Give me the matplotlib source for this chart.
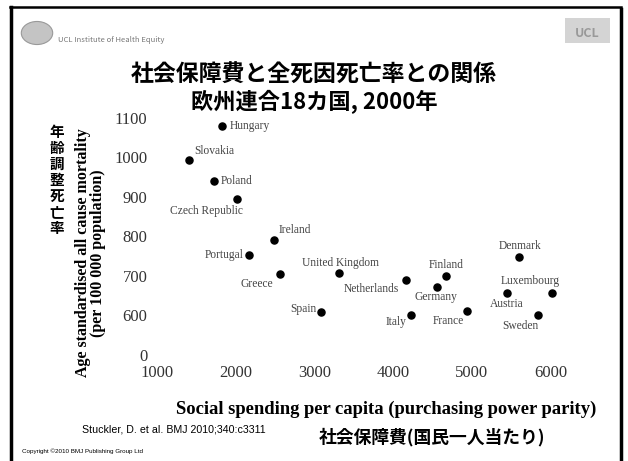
import matplotlib.pyplot as plt
from matplotlib.patches import Circle, Rectangle
from matplotlib.lines import Line2D

plt.rcParams['font.family'] = ['Noto Sans CJK JP', 'DejaVu Sans']

countries = ['Hungary', 'Slovakia', 'Poland', 'Czech Republic', 'Ireland', 'Portugal',
             'Greece', 'Spain', 'United Kingdom', 'Netherlands', 'Finland', 'Germany',
             'Italy', 'France', 'Denmark', 'Luxembourg', 'Austria', 'Sweden']
spending = [1826, 1407, 1724, 2017, 2487, 2169, 2563, 3084, 3313, 4164, 4672, 4558,
            4227, 4939, 5600, 6019, 5447, 5841]
mortality = [1080, 994, 940, 895, 791, 753, 705, 609, 708, 690, 700, 672,
             599, 611, 748, 655, 655, 601]

x_ticks = [1000, 2000, 3000, 4000, 5000, 6000]
y_ticks = [500, 600, 700, 800, 900, 1000, 1100]
y_tick_labels = ['0', '600', '700', '800', '900', '1000', '1100']

# label placement: (dx px, dy px, ha)
offsets = {
    'Hungary': (8, 0, 'left'), 'Slovakia': (25, 9, 'center'), 'Poland': (7, 0, 'left'),
    'Czech Republic': (-31, -12, 'center'), 'Ireland': (21, 10, 'center'),
    'Portugal': (-5, 0, 'right'), 'Greece': (-23, -10, 'center'), 'Spain': (-5, 3, 'right'),
    'United Kingdom': (1, 10, 'center'), 'Netherlands': (-35, -9, 'center'),
    'Finland': (0, 11, 'center'), 'Germany': (-1, -10, 'center'), 'Italy': (-5, -7, 'right'),
    'France': (-19, -10, 'center'), 'Denmark': (1, 11, 'center'),
    'Luxembourg': (-22, 12, 'center'), 'Austria': (0, -11, 'center'),
    'Sweden': (-18, -11, 'center'),
}

W, H = 628, 461
serif = ['Liberation Serif', 'DejaVu Serif']
fig = plt.figure(figsize=(W / 100, H / 100), dpi=100)
fig.patch.set_facecolor('white')

ax = fig.add_axes([157 / W, 1 - 362.4 / H, (590 - 157) / W, (362.4 - 110.1) / H])
ax.set_xlim(1000, 6500)
ax.set_ylim(480, 1120)
for s in ax.spines.values():
    s.set_visible(False)
ax.set_facecolor('none')

ax.scatter(spending, mortality, s=26, color='black', zorder=3)
for name, x, y in zip(countries, spending, mortality):
    dx, dy, ha = offsets[name]
    ax.annotate(name, (x, y), xytext=(dx, dy), textcoords='offset pixels',
                ha=ha, va='center', fontsize=8.3, color='#444444', family=serif)

ax.set_xticks(x_ticks)
ax.set_xticklabels([str(t) for t in x_ticks])
ax.set_yticks(y_ticks)
ax.set_yticklabels(y_tick_labels)
ax.tick_params(length=0, labelsize=12, labelcolor='#333333')
ax.tick_params(axis='y', pad=7)
ax.tick_params(axis='x', pad=2)
for lab in ax.get_xticklabels() + ax.get_yticklabels():
    lab.set_family(serif)

# slide frame
fig.add_artist(Line2D([11 / W, 11 / W], [0, 1 - 7 / H], color='black', lw=2.5))
fig.add_artist(Line2D([10 / W, 621 / W], [1 - 7 / H, 1 - 7 / H], color='black', lw=1.8))
fig.add_artist(Line2D([621 / W, 621 / W], [0, 1 - 9 / H], color='black', lw=2.5))

# logos
fig.add_artist(Circle((37 / W, 1 - 33 / H), 0.025, transform=fig.transFigure,
                      facecolor='#c4c4c4', edgecolor='#999999', lw=0.8))
fig.text(58 / W, 1 - 40 / H, 'UCL Institute of Health Equity', fontsize=5.5,
         color='#777777', va='center', ha='left')
fig.add_artist(Rectangle((565 / W, 1 - 43 / H), 45 / W, 25 / H, transform=fig.transFigure,
                         facecolor='#d4d4d4', edgecolor='none'))
fig.text(587 / W, 1 - 33 / H, 'UCL', fontsize=9, color='#999999', ha='center',
         va='center', fontweight='bold')

# titles
fig.text(314 / W, 1 - 75 / H, '社会保障費と全死因死亡率との関係', fontsize=16.5,
         fontweight='bold', ha='center', va='center')
fig.text(314 / W, 1 - 102 / H, '欧州連合18カ国, 2000年', fontsize=16,
         fontweight='bold', ha='center', va='center')

# axis labels
fig.text(57 / W, 1 - 180 / H, '\n'.join('年齢調整死亡率'), fontsize=10.5,
         fontweight='bold', ha='center', va='center', linespacing=1.0)
fig.text(83 / W, 1 - 253 / H, 'Age standardised all cause mortality', rotation=90,
         fontsize=11.5, fontweight='bold', ha='center', va='center', family=serif)
fig.text(98 / W, 1 - 253 / H, '(per 100 000 population)', rotation=90,
         fontsize=11.5, fontweight='bold', ha='center', va='center', family=serif)
fig.text(386 / W, 1 - 409 / H, 'Social spending per capita (purchasing power parity)',
         fontsize=13.4, fontweight='bold', ha='center', va='center', family=serif)
fig.text(82 / W, 1 - 429 / H, 'Stuckler, D. et al. BMJ 2010;340:c3311', fontsize=7.7,
         ha='left', va='center', family=['Liberation Sans', 'DejaVu Sans'])
fig.text(432 / W, 1 - 437 / H, '社会保障費(国民一人当たり)', fontsize=12.8,
         fontweight='bold', ha='center', va='center')
fig.text(22 / W, 1 - 451 / H, 'Copyright ©2010 BMJ Publishing Group Ltd', fontsize=4.5,
         ha='left', va='center', family=['Liberation Sans', 'DejaVu Sans'])

fig.savefig('out.png', dpi=100)
